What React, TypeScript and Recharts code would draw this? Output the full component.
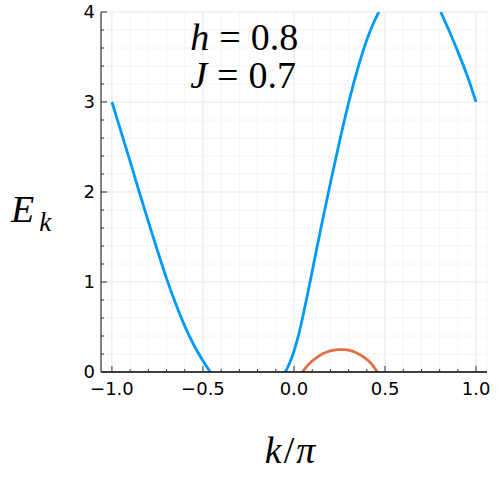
import { LineChart, Line, XAxis, YAxis, CartesianGrid, ReferenceLine, ReferenceDot } from "recharts";

// upper band, gaps where it leaves the plotted range
const blueK = [
  -1.0, -0.95, -0.9, -0.85, -0.8, -0.75, -0.7, -0.65, -0.6, -0.55, -0.5, -0.46,
  -0.25,
  -0.049, -0.035, -0.02, -0.005, 0.01, 0.025, 0.05, 0.075, 0.1, 0.15, 0.2, 0.25, 0.3, 0.35, 0.4, 0.435, 0.466,
  0.64,
  0.806, 0.85, 0.9, 0.95, 1.0,
];
const blueE = [
  3.0, 2.67, 2.34, 2.0, 1.67, 1.35, 1.04, 0.76, 0.51, 0.3, 0.125, 0.0,
  null,
  0.0, 0.05, 0.12, 0.2, 0.3, 0.41, 0.63, 0.87, 1.12, 1.62, 2.1, 2.56, 2.99, 3.37, 3.69, 3.87, 4.0,
  null,
  4.0, 3.8, 3.56, 3.3, 3.0,
];

// lower band
const orangeK = [0.046, 0.08, 0.12, 0.16, 0.2, 0.24, 0.28, 0.32, 0.36, 0.4, 0.43, 0.458];
const orangeE = [0.0, 0.085, 0.155, 0.205, 0.235, 0.248, 0.248, 0.232, 0.195, 0.14, 0.08, 0.0];

const xTicks = [
  -1.0, -0.9, -0.8, -0.7, -0.6, -0.5, -0.4, -0.3, -0.2, -0.1, 0.0,
  0.1, 0.2, 0.3, 0.4, 0.5, 0.6, 0.7, 0.8, 0.9, 1.0,
];
const xMajor = [-1.0, -0.5, 0.0, 0.5, 1.0];
const yTicks = [
  0, 0.2, 0.4, 0.6, 0.8, 1, 1.2, 1.4, 1.6, 1.8, 2, 2.2, 2.4, 2.6, 2.8, 3, 3.2, 3.4, 3.6, 3.8, 4,
];
const yMajor = [0, 1, 2, 3, 4];

const blueData = blueK.map((k, i) => ({ k, E: blueE[i] }));
const orangeData = orangeK.map((k, i) => ({ k, E: orangeE[i] }));

const isMajor = (list: number[], v: number) => list.some((m) => Math.abs(m - v) < 1e-6);
const fmtX = (v: number) => v.toFixed(1).replace("-", "\u2212");

const TICK_FONT = "DejaVu Sans, sans-serif";
const MATH_FONT = "Liberation Serif, serif";

function XTick(props: any) {
  const { x, y, payload } = props;
  const major = isMajor(xMajor, payload.value);
  return (
    <g>
      <line x1={x} x2={x} y1={y} y2={y - (major ? 6 : 3)} stroke="#333" strokeWidth={1} />
      {major && (
        <text x={x} y={y + 23} textAnchor="middle" fontSize={18} fontFamily={TICK_FONT} fill="#000">
          {fmtX(payload.value)}
        </text>
      )}
    </g>
  );
}

function YTick(props: any) {
  const { x, y, payload } = props;
  const major = isMajor(yMajor, payload.value);
  return (
    <g>
      <line x1={x} x2={x + (major ? 6 : 3)} y1={y} y2={y} stroke="#333" strokeWidth={1} />
      {major && (
        <text x={x - 6} y={y} dy="0.34em" textAnchor="end" fontSize={18} fontFamily={TICK_FONT} fill="#000">
          {payload.value}
        </text>
      )}
    </g>
  );
}

function Annotation(props: any) {
  const { cx, cy } = props;
  return (
    <g fontFamily={MATH_FONT} fontSize={38} fill="#000">
      <text x={cx} y={cy}>
        <tspan fontStyle="italic">h</tspan>
        <tspan dx={10}>=</tspan>
        <tspan dx={10}>0.8</tspan>
      </text>
      <text x={cx} y={cy + 38}>
        <tspan fontStyle="italic">J</tspan>
        <tspan dx={10}>=</tspan>
        <tspan dx={10}>0.7</tspan>
      </text>
    </g>
  );
}

export default function App() {
  return (
    <div style={{ position: "absolute", left: 0, top: 0, background: "#fff" }}>
      <LineChart width={499} height={499} margin={{ top: 12, right: 12, left: 0, bottom: 0 }}>
        <CartesianGrid stroke="#f4f4f4" strokeWidth={1} />
        {xMajor.map((v) => (
          <ReferenceLine key={"gx" + v} x={v} stroke="#ebebeb" />
        ))}
        {yMajor.slice(1).map((v) => (
          <ReferenceLine key={"gy" + v} y={v} stroke="#ebebeb" />
        ))}
        <XAxis
          dataKey="k"
          type="number"
          domain={[-1.06, 1.06]}
          allowDataOverflow
          ticks={xTicks}
          interval={0}
          tickSize={0}
          tickMargin={0}
          tickLine={false}
          tick={<XTick />}
          height={127}
          axisLine={{ stroke: "#000", strokeWidth: 1.3 }}
          label={{
            content: (p: any) => {
              const vb = p.viewBox;
              return (
                <text x={vb.x + vb.width / 2 - 4} y={463} textAnchor="middle" fontFamily={MATH_FONT} fontSize={38} fontStyle="italic" fill="#000">
                  k
                  <tspan dx={2} fontStyle="normal">/</tspan>
                  <tspan dx={2}>π</tspan>
                </text>
              );
            },
          }}
        />
        <YAxis
          type="number"
          domain={[0, 4]}
          allowDataOverflow
          ticks={yTicks}
          interval={0}
          tickSize={0}
          tickMargin={0}
          tickLine={false}
          tick={<YTick />}
          width={101}
          axisLine={{ stroke: "#333", strokeWidth: 1.2 }}
          label={{
            content: () => (
              <text x={11} y={222} fontFamily={MATH_FONT} fontSize={38} fontStyle="italic" fill="#000">
                E
                <tspan fontSize={27} dy={9} dx={5}>k</tspan>
              </text>
            ),
          }}
        />
        <Line
          data={blueData}
          dataKey="E"
          type="monotone"
          stroke="#009AFA"
          strokeWidth={2.8}
          dot={false}
          connectNulls={false}
          isAnimationActive={false}
        />
        <Line
          data={orangeData}
          dataKey="E"
          type="natural"
          stroke="#E26F46"
          strokeWidth={2.8}
          dot={false}
          isAnimationActive={false}
        />
        <ReferenceDot x={-0.57} y={3.58} r={0} shape={<Annotation />} />
      </LineChart>
    </div>
  );
}
